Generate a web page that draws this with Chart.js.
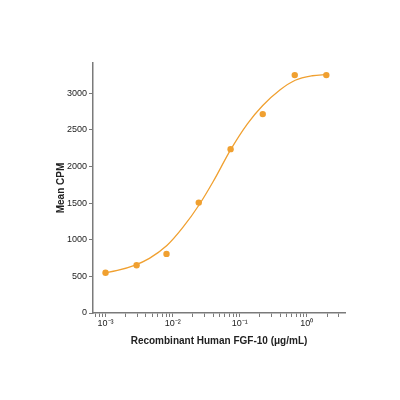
<!DOCTYPE html>
<html lang="en">
<head>
  <meta charset="UTF-8" />
  <title>FGF-10 dose response</title>
  <script src="https://cdn.jsdelivr.net/npm/chart.js"></script>
  <style>
    html, body { margin: 0; padding: 0; background: #fff; }
    #wrap { width: 400px; height: 400px; }
  </style>
</head>
<body>
  <div id="wrap"><canvas id="chart" width="400" height="400"></canvas></div>
  <script>
    // measured points (ug/mL, mean CPM)
    const doseX = [0.001, 0.0029, 0.0081, 0.0245, 0.073, 0.22, 0.66, 1.95];
    const cpmY = [550, 651, 806, 1506, 2235, 2713, 3245, 3245];

    // fitted curve
    const curveX = [0.00091, 0.0015, 0.0027, 0.0045, 0.0082, 0.014, 0.025, 0.04, 0.074, 0.13, 0.22, 0.4, 0.67, 1.2, 2.0];
    const curveY = [542, 580, 650, 745, 920, 1160, 1480, 1790, 2235, 2580, 2830, 3045, 3175, 3236, 3254];

    const yTicks = [0, 500, 1000, 1500, 2000, 2500, 3000];
    const xDecades = [0.001, 0.01, 0.1, 1];
    const xDecadeLabels = ['10⁻³', '10⁻²', '10⁻¹', '10⁰'];

    const orange = '#f0a030';
    const axisGray = '#7a7a7a';
    const font = "'Liberation Sans', Arial, sans-serif";

    // minor ticks 1..9 x each decade, inside the axis range
    const xMin = 0.00065, xMax = 3.7;
    const xTickVals = [];
    [0.0001, 0.001, 0.01, 0.1, 1].forEach(d => {
      for (let m = 1; m <= 9; m += 1) {
        const v = +(d * m).toPrecision(3);
        if (v >= xMin && v <= xMax) xTickVals.push(v);
      }
    });

    new Chart(document.getElementById('chart'), {
      data: {
        datasets: [
          {
            type: 'line',
            data: curveX.map((x, i) => ({ x, y: curveY[i] })),
            borderColor: orange,
            borderWidth: 1.3,
            pointRadius: 0,
            cubicInterpolationMode: 'monotone',
            fill: false
          },
          {
            type: 'scatter',
            data: doseX.map((x, i) => ({ x, y: cpmY[i] })),
            backgroundColor: orange,
            borderColor: orange,
            pointRadius: 3.2,
            borderWidth: 0
          }
        ]
      },
      options: {
        responsive: false,
        animation: false,
        layout: { padding: { left: 55, right: 55, top: 63, bottom: 53 } },
        plugins: { legend: { display: false }, tooltip: { enabled: false } },
        scales: {
          x: {
            type: 'logarithmic',
            min: xMin,
            max: xMax,
            afterBuildTicks: (scale) => { scale.ticks = xTickVals.map(value => ({ value })); },
            afterFit: (scale) => { scale.height = 34; },
            border: { display: true, color: axisGray, width: 1.5 },
            grid: { drawOnChartArea: false, drawTicks: true, tickLength: 4, color: axisGray },
            ticks: {
              autoSkip: false,
              maxRotation: 0,
              padding: 1,
              color: '#222',
              font: { family: font, size: 9 },
              callback: (value) => {
                const idx = xDecades.findIndex(d => Math.abs(d - value) / d < 1e-6);
                return idx >= 0 ? xDecadeLabels[idx] : '';
              }
            },
            title: {
              display: true,
              text: 'Recombinant Human FGF-10 (μg/mL)',
              color: '#222',
              font: { family: font, size: 10, weight: 'bold' },
              padding: { top: 2, bottom: 0 }
            }
          },
          y: {
            min: 0,
            max: 3410,
            afterBuildTicks: (scale) => { scale.ticks = yTicks.map(value => ({ value })); },
            afterFit: (scale) => { scale.width = 38; },
            border: { display: true, color: axisGray, width: 1.5 },
            grid: { drawOnChartArea: false, drawTicks: true, tickLength: 4, color: axisGray },
            ticks: {
              padding: 2,
              color: '#222',
              font: { family: font, size: 9 },
              callback: (value) => String(value)
            },
            title: {
              display: true,
              text: 'Mean CPM',
              color: '#222',
              font: { family: font, size: 10, weight: 'bold' },
              padding: 0
            }
          }
        }
      }
    });
  </script>
</body>
</html>
